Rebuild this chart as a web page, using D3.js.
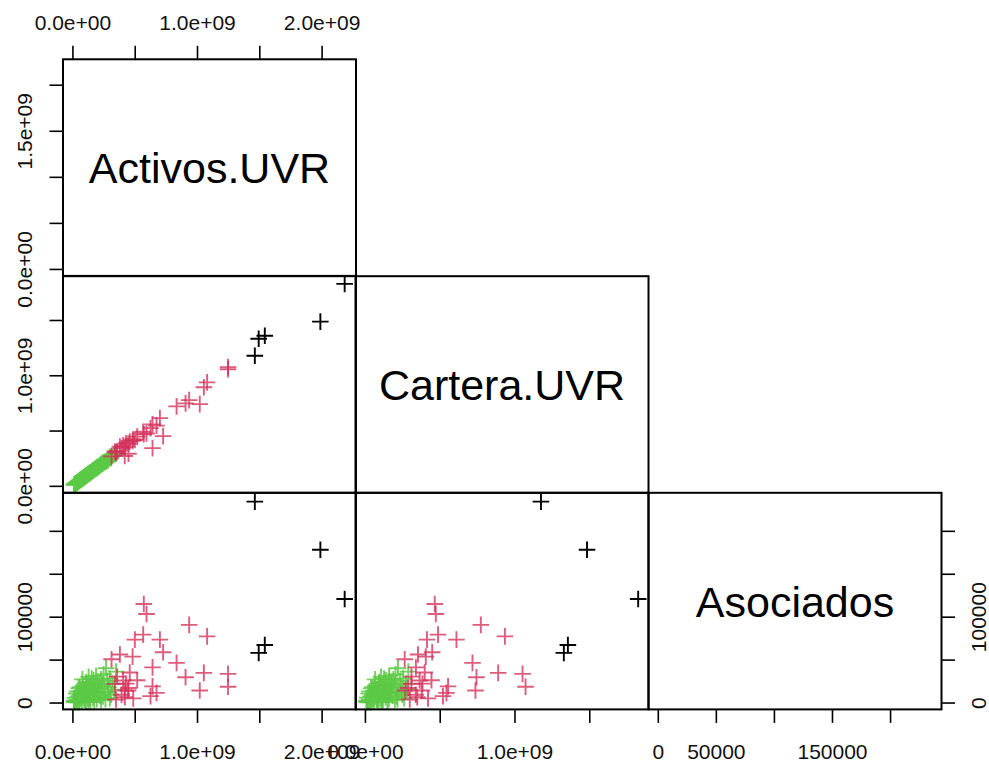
<!DOCTYPE html>
<html>
<head>
<meta charset="utf-8">
<script src="https://cdn.jsdelivr.net/npm/d3@7"></script>
<style>
  body { margin: 0; background: #fff; }
  text { font-family: "Liberation Sans", Arial, Helvetica, sans-serif; }
</style>
</head>
<body>
<svg id="chart" width="989" height="763"></svg>
<script>
// Variables shown on the diagonal
const variables = ["Activos.UVR", "Cartera.UVR", "Asociados"];

// Group 1 (black)
const activosNegro = [1.464e9, 1.990e9, 2.185e9, 1.495e9, 1.544e9];
const carteraNegro = [1.177e9, 1.485e9, 1.827e9, 1.330e9, 1.357e9];
const asociadosNegro = [234000, 178000, 120600, 57800, 67100];

// Group 2 (red)
const activosRojo = [0.573e9, 0.595e9, 0.937e9, 1.081e9, 0.568e9, 0.501e9, 0.702e9, 0.728e9, 0.483e9, 0.381e9,
  0.314e9, 0.836e9, 0.643e9, 1.055e9, 1.249e9, 0.908e9, 1.249e9, 1.022e9, 0.643e9, 0.675e9,
  0.627e9, 0.488e9, 0.407e9, 0.450e9, 0.447e9, 0.341e9, 0.421e9, 0.420e9, 0.359e9, 0.395e9,
  0.430e9, 0.460e9, 0.350e9, 0.520e9];
const carteraRojo = [0.467e9, 0.474e9, 0.775e9, 0.936e9, 0.489e9, 0.415e9, 0.612e9, 0.450e9, 0.407e9, 0.355e9,
  0.266e9, 0.719e9, 0.341e9, 0.891e9, 1.054e9, 0.746e9, 1.074e9, 0.739e9, 0.556e9, 0.545e9,
  0.522e9, 0.422e9, 0.366e9, 0.290e9, 0.380e9, 0.311e9, 0.350e9, 0.270e9, 0.311e9, 0.340e9,
  0.385e9, 0.400e9, 0.300e9, 0.445e9];
const asociadosRojo = [114800, 103100, 90500, 77100, 79100, 73300, 73300, 58500, 53500, 56000,
  50500, 46200, 41000, 34500, 33400, 29400, 18400, 14000, 18800, 11300,
  7500, 4800, 25600, 17000, 14000, 21700, 6200, 14000, 30200, 9000,
  22000, 35000, 3500, 26000];

// Group 3 (green)
const activosVerde = [0.270e9, 0.250e9, 0.300e9, 0.320e9, 0.335e9, 0.310e9, 0.290e9, 0.280e9, 0.260e9, 0.240e9,
  0.230e9, 0.220e9, 0.210e9, 0.200e9, 0.195e9, 0.185e9, 0.180e9, 0.170e9, 0.165e9, 0.160e9,
  0.150e9, 0.145e9, 0.140e9, 0.135e9, 0.130e9, 0.125e9, 0.120e9, 0.115e9, 0.110e9, 0.105e9,
  0.100e9, 0.095e9, 0.090e9, 0.085e9, 0.080e9, 0.075e9, 0.070e9, 0.065e9, 0.060e9, 0.055e9,
  0.050e9, 0.045e9, 0.040e9, 0.035e9, 0.030e9, 0.025e9, 0.020e9, 0.015e9, 0.012e9, 0.018e9,
  0.350e9, 0.230e9, 0.175e9, 0.205e9, 0.245e9, 0.265e9, 0.155e9, 0.190e9, 0.110e9, 0.060e9,
  0.300e9, 0.285e9, 0.215e9, 0.140e9, 0.080e9, 0.038e9, 0.128e9, 0.098e9, 0.072e9, 0.052e9];
const carteraVerde = [0.221e9, 0.205e9, 0.255e9, 0.275e9, 0.280e9, 0.250e9, 0.240e9, 0.235e9, 0.215e9, 0.200e9,
  0.190e9, 0.185e9, 0.175e9, 0.170e9, 0.160e9, 0.155e9, 0.150e9, 0.140e9, 0.138e9, 0.135e9,
  0.125e9, 0.120e9, 0.118e9, 0.110e9, 0.108e9, 0.105e9, 0.100e9, 0.095e9, 0.092e9, 0.088e9,
  0.083e9, 0.080e9, 0.075e9, 0.070e9, 0.066e9, 0.062e9, 0.058e9, 0.055e9, 0.050e9, 0.046e9,
  0.041e9, 0.037e9, 0.033e9, 0.029e9, 0.025e9, 0.021e9, 0.017e9, 0.012e9, 0.010e9, 0.015e9,
  0.290e9, 0.200e9, 0.150e9, 0.168e9, 0.212e9, 0.218e9, 0.128e9, 0.162e9, 0.096e9, 0.052e9,
  0.262e9, 0.230e9, 0.180e9, 0.115e9, 0.068e9, 0.031e9, 0.110e9, 0.081e9, 0.060e9, 0.043e9];
const asociadosVerde = [40000, 33000, 28000, 22000, 15000, 9000, 18000, 25000, 12000, 20000,
  27000, 8000, 16000, 23000, 4000, 11000, 19000, 26000, 6000, 14000,
  21000, 2000, 9500, 17000, 30000, 5000, 12500, 22500, 1500, 8500,
  15500, 3500, 11000, 19500, 6500, 1000, 13500, 4500, 9000, 2500,
  16500, 7000, 500, 3000, 10500, 1200, 5500, 800, 2200, 400,
  36000, 3000, 600, 13000, 7000, 4000, 28000, 31000, 24000, 18000,
  5000, 11500, 21500, 4500, 27000, 13000, 700, 3200, 8200, 300];

// Axis ticks and the labels that are printed
const activosTicks = [0, 0.5e9, 1e9, 1.5e9, 2e9];
const activosEtiquetasX = [0, 1e9, 2e9];
const activosEtiquetasY = [0, 1.5e9];
const carteraTicks = [0, 0.5e9, 1e9, 1.5e9];
const carteraEtiquetas = [0, 1e9];
const asociadosTicks = [0, 50000, 100000, 150000, 200000];
const asociadosEtiquetasX = [0, 50000, 150000];
const asociadosEtiquetasY = [0, 100000];

// Layout
const colX = [63, 355.5, 648.5];
const rowY = [59.3, 276.2, 492.8];
const panelW = 293;
const panelH = 216.6;
const dominios = [[-0.0756e9, 2.276e9], [-0.063e9, 1.896e9], [-8000, 244300]];

const svg = d3.select("#chart");

const xScale = (j) => d3.scaleLinear().domain(dominios[j]).range([colX[j], colX[j] + panelW]);
const yScale = (i) => d3.scaleLinear().domain(dominios[i]).range([rowY[i] + panelH, rowY[i]]);

// Scientific labels like R: 1.0e+09
const sci = (v) => {
    if (v === 0) return "0.0e+00";
    const e = Math.floor(Math.log10(Math.abs(v)));
    const m = v / Math.pow(10, e);
    return m.toFixed(1) + "e+" + String(e).padStart(2, "0");
};

const grupos = [
    { color: "#5cc945", opacity: 0.85, vals: [activosVerde, carteraVerde, asociadosVerde] },
    { color: "#d4305a", opacity: 0.78, vals: [activosRojo, carteraRojo, asociadosRojo] },
    { color: "#000000", opacity: 1, vals: [activosNegro, carteraNegro, asociadosNegro] }
];

const crossSize = 8.3;
const crossPath = `M${-crossSize},0H${crossSize}M0,${-crossSize}V${crossSize}`;

// Lower panels: scatter of variable j (x) against variable i (y)
for (let i = 0; i < 3; i++) {
    for (let j = 0; j < i; j++) {
        const x = xScale(j);
        const y = yScale(i);
        const g = svg.append("g");
        grupos.forEach(gr => {
            const pts = gr.vals[0].map((_, k) => [gr.vals[j][k], gr.vals[i][k]]);
            g.selectAll(null)
                .data(pts)
                .enter()
                .append("path")
                .attr("d", crossPath)
                .attr("transform", d => `translate(${x(d[0])},${y(d[1])})`)
                .attr("stroke", gr.color)
                .attr("stroke-opacity", gr.opacity)
                .attr("stroke-width", 1.9)
                .attr("fill", "none");
        });
    }
}

// Panel boxes (diagonal + lower)
for (let i = 0; i < 3; i++) {
    for (let j = 0; j <= i; j++) {
        svg.append("rect")
            .attr("x", colX[j])
            .attr("y", rowY[i])
            .attr("width", panelW)
            .attr("height", panelH)
            .attr("fill", "none")
            .attr("stroke", "#000")
            .attr("stroke-width", 2);
    }
}

// Diagonal names
variables.forEach((name, k) => {
    svg.append("text")
        .attr("x", colX[k] + panelW / 2)
        .attr("y", rowY[k] + panelH / 2)
        .attr("dy", "0.36em")
        .attr("text-anchor", "middle")
        .attr("font-size", 43)
        .attr("fill", "#000")
        .text(name);
});

// Axis helper
const drawAxis = (axis, tx, ty, ticks, labels, fmt, side) => {
    const labelSet = new Set(labels);
    const g = svg.append("g")
        .attr("transform", `translate(${tx},${ty})`)
        .call(axis.tickValues(ticks).tickSize(13.5).tickSizeOuter(0)
            .tickFormat(d => labelSet.has(d) ? fmt(d) : ""));
    g.select(".domain").remove();
    g.selectAll(".tick line").attr("stroke", "#000").attr("stroke-width", 1.6);
    const t = g.selectAll(".tick text")
        .attr("font-size", 21)
        .attr("font-family", "Liberation Sans, Arial, Helvetica, sans-serif")
        .attr("fill", "#111");
    if (side === "top") t.attr("y", -29.5).attr("dy", 0);
    if (side === "bottom") t.attr("y", 49.5).attr("dy", 0);
    if (side === "left") t.attr("x", 0).attr("y", 0).attr("dy", 0)
        .attr("text-anchor", "middle").attr("transform", "translate(-31,0) rotate(-90)");
    if (side === "right") t.attr("x", 0).attr("y", 0).attr("dy", 0)
        .attr("text-anchor", "middle").attr("transform", "translate(44.5,0) rotate(-90)");
};

const bottomY = rowY[2] + panelH;
const rightX = colX[2] + panelW;

drawAxis(d3.axisTop(xScale(0)), 0, rowY[0], activosTicks, activosEtiquetasX, sci, "top");
drawAxis(d3.axisBottom(xScale(0)), 0, bottomY, activosTicks, activosEtiquetasX, sci, "bottom");
drawAxis(d3.axisBottom(xScale(1)), 0, bottomY, carteraTicks, carteraEtiquetas, sci, "bottom");
drawAxis(d3.axisBottom(xScale(2)), 0, bottomY, asociadosTicks, asociadosEtiquetasX, d => String(d), "bottom");

drawAxis(d3.axisLeft(yScale(0)), colX[0], 0, activosTicks, activosEtiquetasY, sci, "left");
drawAxis(d3.axisLeft(yScale(1)), colX[0], 0, carteraTicks, carteraEtiquetas, sci, "left");
drawAxis(d3.axisLeft(yScale(2)), colX[0], 0, asociadosTicks, asociadosEtiquetasY, d => String(d), "left");
drawAxis(d3.axisRight(yScale(2)), rightX, 0, asociadosTicks, asociadosEtiquetasY, d => String(d), "right");
</script>
</body>
</html>
